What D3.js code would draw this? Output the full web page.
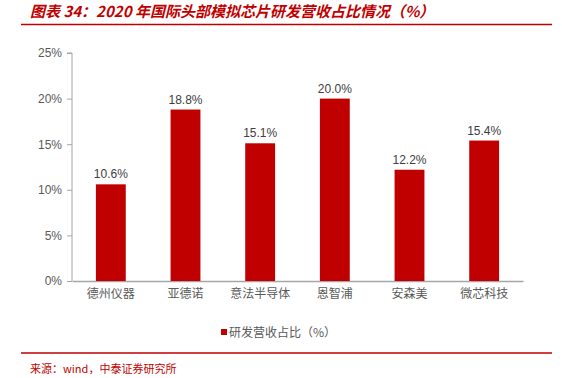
<!DOCTYPE html>
<html>
<head>
<meta charset="utf-8">
<script src="https://cdn.jsdelivr.net/npm/d3@7"></script>
<style>
  body { margin: 0; background: #fff; }
  svg text { font-family: "Noto Sans CJK SC", "Liberation Sans", Arial, sans-serif; }
</style>
</head>
<body>
<svg width="562" height="378"></svg>
<script>
// data
var companies = ["德州仪器", "亚德诺", "意法半导体", "恩智浦", "安森美", "微芯科技"];
var rdRatio = [10.6, 18.8, 15.1, 20.0, 12.2, 15.4];
var yTicks = [0, 5, 10, 15, 20, 25];

var svg = d3.select("svg"),
    width = +svg.attr("width"),
    height = +svg.attr("height");

var red = "#c00000";
var margin = {left: 72, right: 39, top: 53, bottom: 97};

var x = d3.scaleBand()
    .domain(companies)
    .range([margin.left, width - margin.right])
    .paddingInner(0.6)
    .paddingOuter(0.32);

var y = d3.scaleLinear()
    .domain([0, 25])
    .range([height - margin.bottom, margin.top]);

// title
svg.append("text")
    .attr("x", 30).attr("y", 17)
    .attr("fill", red)
    .attr("font-size", 15)
    .attr("font-style", "italic")
    .attr("font-weight", "bold")
    .text("图表 34：2020 年国际头部模拟芯片研发营收占比情况（%）");

svg.append("line")
    .attr("x1", 21).attr("x2", 552)
    .attr("y1", 24.5).attr("y2", 24.5)
    .attr("stroke", red).attr("stroke-width", 1.5);

// y axis
var yAxis = svg.append("g")
    .attr("transform", "translate(" + margin.left + ",0)")
    .call(d3.axisLeft(y).tickValues(yTicks).tickSize(5).tickFormat(function(d) { return d + "%"; }));
yAxis.selectAll("path, line").attr("stroke", "#a6a6a6");
yAxis.select(".domain").attr("d", "M-5," + y(25) + "H0V" + y(0));
yAxis.selectAll("text")
    .attr("fill", "#595959")
    .attr("font-size", 12)
    .attr("dx", -2)
    .style("font-family", "Liberation Sans, Arial, sans-serif");

// x axis
var xAxis = svg.append("g")
    .attr("transform", "translate(0," + y(0) + ")")
    .call(d3.axisBottom(x).tickSize(0).tickPadding(8));
xAxis.select(".domain").attr("stroke", "#a6a6a6").attr("stroke-width", 1.5);
xAxis.selectAll("text").attr("fill", "#595959").attr("font-size", 12);

// bars
svg.append("g")
    .selectAll("rect")
    .data(rdRatio)
    .enter().append("rect")
      .attr("x", function(d, i) { return x(companies[i]); })
      .attr("width", x.bandwidth())
      .attr("y", function(d) { return y(d); })
      .attr("height", function(d) { return y(0) - y(d); })
      .attr("fill", red);

svg.append("g")
    .selectAll("text")
    .data(rdRatio)
    .enter().append("text")
      .attr("x", function(d, i) { return x(companies[i]) + x.bandwidth() / 2; })
      .attr("y", function(d) { return y(d) - 6; })
      .attr("text-anchor", "middle")
      .attr("fill", "#404040")
      .attr("font-size", 12)
      .style("font-family", "Liberation Sans, Arial, sans-serif")
      .text(function(d) { return d.toFixed(1) + "%"; });

// legend
svg.append("rect")
    .attr("x", 221).attr("y", 329)
    .attr("width", 6).attr("height", 6)
    .attr("fill", red);
svg.append("text")
    .attr("x", 229).attr("y", 337)
    .attr("fill", "#595959")
    .attr("font-size", 12)
    .text("研发营收占比（%）");

svg.append("line")
    .attr("x1", 21).attr("x2", 552)
    .attr("y1", 353).attr("y2", 353)
    .attr("stroke", red).attr("stroke-width", 1.5);

svg.append("text")
    .attr("x", 30).attr("y", 373)
    .attr("fill", red)
    .attr("font-size", 11)
    .text("来源：wind，中泰证券研究所");
</script>
</body>
</html>
